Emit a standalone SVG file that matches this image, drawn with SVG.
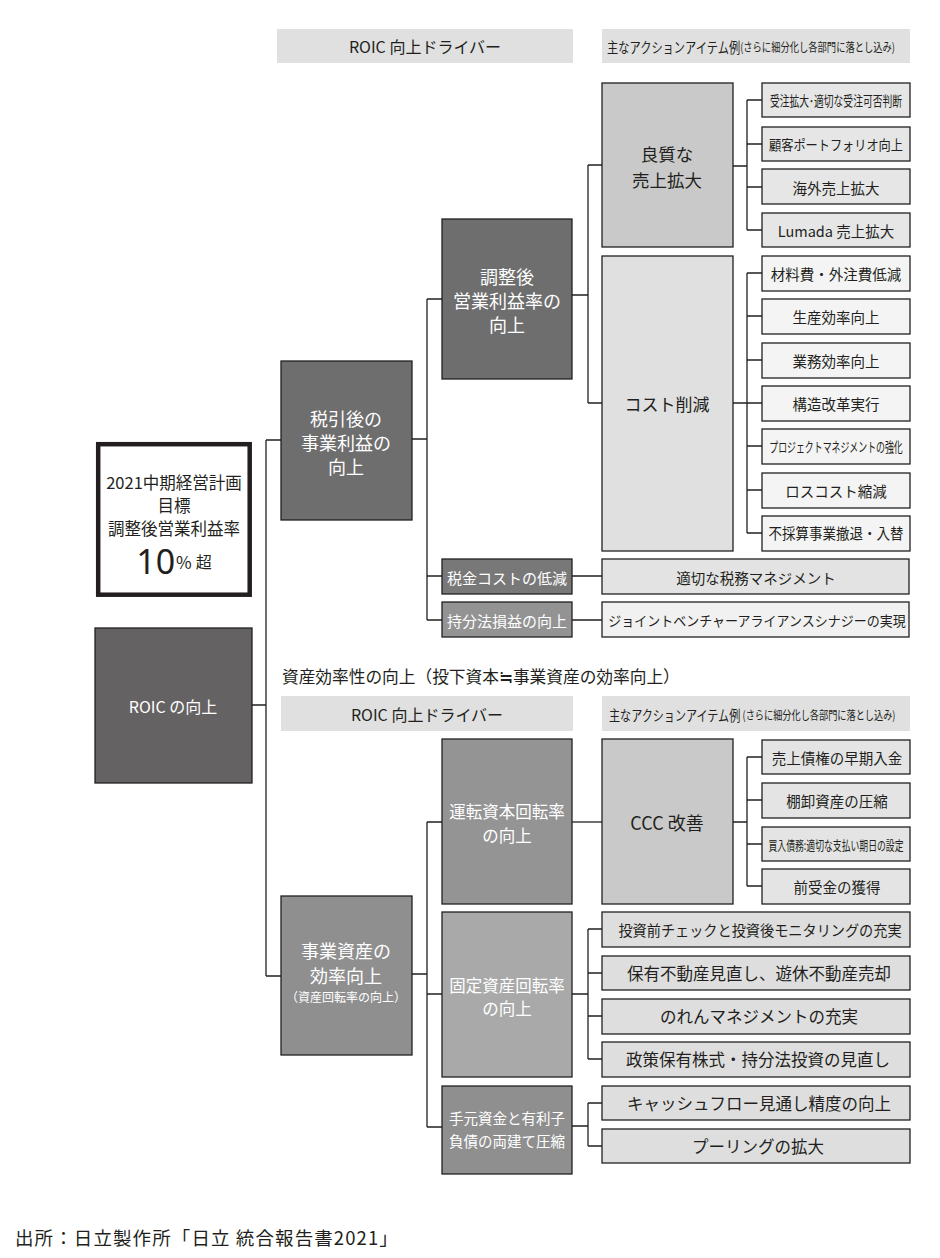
<svg xmlns="http://www.w3.org/2000/svg" width="940" height="1258" viewBox="0 0 940 1258">
<style>
text{font-family:"Noto Sans CJK JP","Noto Sans",sans-serif;fill:#231f20;dominant-baseline:central}
.w{fill:#ffffff}
.b{stroke:#231f20;stroke-width:1.3}
.c{fill:none;stroke:#231f20;stroke-width:1.3}
.m{text-anchor:middle}
</style>
<rect width="940" height="1258" fill="#ffffff"/>

<!-- headers -->
<g id="hdr1">
<rect x="277" y="29" width="296" height="34" fill="#e0e0e0"/>
<text x="425" y="46" class="m" font-size="16">ROIC 向上ドライバー</text>
<rect x="602" y="29" width="308" height="34" fill="#e0e0e0"/>
<text transform="translate(607,46) scale(0.775,1)"><tspan font-size="14.5">主なアクションアイテム例</tspan><tspan font-size="12">(さらに細分化し各部門に落とし込み)</tspan></text>
</g>
<g id="sec2label">
<text x="282" y="676" font-size="16.7">資産効率性の向上（投下資本≒事業資産の効率向上）</text>
</g>
<g id="hdr2">
<rect x="281" y="696" width="292" height="35" fill="#e0e0e0"/>
<text x="427" y="714" class="m" font-size="16">ROIC 向上ドライバー</text>
<rect x="602" y="696" width="308" height="35" fill="#e0e0e0"/>
<text transform="translate(609,714) scale(0.765,1)"><tspan font-size="14.5">主なアクションアイテム例</tspan><tspan font-size="12" dx="3">(さらに細分化し各部門に落とし込み)</tspan></text>
</g>

<!-- connectors -->
<g id="connectors" class="c">
<path d="M252 705H266M266 440V976M266 440H281M266 976H281"/>
<path d="M412 439H427M427 299V620M427 299H442M427 576H442M427 620H442"/>
<path d="M572 295H588M588 165V403M588 165H602M588 403H602"/>
<path d="M733 166H747M747 100V230M747 100H762M747 144H762M747 187H762M747 230H762"/>
<path d="M733 403H747M747 273V533M747 273H762M747 316H762M747 360H762M747 403H762M747 446H762M747 490H762M747 533H762"/>
<path d="M572 576H602M572 620H602"/>
<path d="M412 974H427M427 822V1127M427 822H442M427 994H442M427 1127H442"/>
<path d="M572 822H602"/>
<path d="M733 822H747M747 757V886M747 757H762M747 800H762M747 844H762M747 886H762"/>
<path d="M572 994H588M588 929V1059M588 929H602M588 973H602M588 1016H602M588 1059H602"/>
<path d="M572 1126H588M588 1103V1146M588 1103H602M588 1146H602"/>
</g>

<!-- left column -->
<g id="goal">
<rect x="98.2" y="444.2" width="151.5" height="150.5" fill="#ffffff" stroke="#231f20" stroke-width="4.5"/>
<text x="174" y="482" class="m" font-size="16.5">2021中期経営計画</text>
<text x="174" y="505" class="m" font-size="16.5">目標</text>
<text x="174" y="528" class="m" font-size="16.5">調整後営業利益率</text>
<text x="174" y="561" class="m"><tspan font-size="34" font-family="Noto Sans,sans-serif">10</tspan><tspan font-size="17" dx="1">%</tspan><tspan font-size="16" dx="4">超</tspan></text>
</g>
<g id="roic">
<rect x="95" y="628" width="157" height="155" fill="#656263" class="b"/>
<text x="173" y="706" class="m w" font-size="16">ROIC の向上</text>
</g>

<!-- level 2 -->
<g id="zeibiki">
<rect x="281" y="361" width="131" height="159" fill="#6e6e6e" class="b"/>
<text x="346" y="418" class="m w" font-size="18">税引後の</text>
<text x="346" y="442" class="m w" font-size="18">事業利益の</text>
<text x="346" y="466" class="m w" font-size="18">向上</text>
</g>
<g id="jigyoshisan">
<rect x="281" y="896" width="131" height="159" fill="#8f8f8f" class="b"/>
<text x="346" y="950" class="m w" font-size="18">事業資産の</text>
<text x="346" y="975" class="m w" font-size="18">効率向上</text>
<text class="m w" font-size="12.5" transform="translate(346,997) scale(0.96,1)">（資産回転率の向上）</text>
</g>

<!-- level 3 upper -->
<g id="chosei">
<rect x="442" y="219" width="130" height="160" fill="#6e6e6e" class="b"/>
<text x="507" y="276" class="m w" font-size="18">調整後</text>
<text x="507" y="300" class="m w" font-size="18">営業利益率の</text>
<text x="507" y="324" class="m w" font-size="18">向上</text>
</g>
<g id="zeikin">
<rect x="442" y="559" width="130" height="35" fill="#787878" class="b"/>
<text x="507" y="577" class="m w" font-size="15">税金コストの低減</text>
</g>
<g id="mochibun">
<rect x="442" y="602" width="130" height="35" fill="#939393" class="b"/>
<text x="507" y="620" class="m w" font-size="15">持分法損益の向上</text>
</g>

<!-- level 4 upper -->
<g id="ryoshitsu">
<rect x="602" y="83" width="131" height="164" fill="#c9c9c9" class="b"/>
<text x="667" y="153" class="m" font-size="17.5">良質な</text>
<text x="667" y="179" class="m" font-size="17.5">売上拡大</text>
</g>
<g id="cost">
<rect x="602" y="256" width="131" height="295" fill="#e0e0e0" class="b"/>
<text x="667" y="403" class="m" font-size="17">コスト削減</text>
</g>
<g id="zeimu">
<rect x="602" y="559" width="307" height="35" fill="#e3e3e3" class="b"/>
<text x="756" y="577" class="m" font-size="14.5">適切な税務マネジメント</text>
</g>
<g id="joint">
<rect x="602" y="602" width="307" height="35" fill="#f1f1f1" class="b"/>
<text class="m" font-size="14" transform="translate(757,620) scale(0.93,1)">ジョイントベンチャーアライアンスシナジーの実現</text>
</g>

<!-- action items upper -->
<g id="a1"><rect x="762" y="83" width="148" height="34" fill="#e6e6e6" class="b"/><text class="m" font-size="14" transform="translate(836,100) scale(0.7,1)">受注拡大･適切な受注可否判断</text></g>
<g id="a2"><rect x="762" y="127" width="148" height="34" fill="#e6e6e6" class="b"/><text class="m" font-size="14" transform="translate(836,144) scale(0.87,1)">顧客ポートフォリオ向上</text></g>
<g id="a3"><rect x="762" y="169" width="148" height="35" fill="#e6e6e6" class="b"/><text x="836" y="187" class="m" font-size="14.5">海外売上拡大</text></g>
<g id="a4"><rect x="762" y="213" width="148" height="34" fill="#e6e6e6" class="b"/><text x="836" y="230" class="m" font-size="14.5">Lumada 売上拡大</text></g>

<g id="b1"><rect x="762" y="256" width="148" height="35" fill="#f3f4f3" class="b"/><text x="836" y="273" class="m" font-size="14.5">材料費・外注費低減</text></g>
<g id="b2"><rect x="762" y="299" width="148" height="35" fill="#f3f4f3" class="b"/><text x="836" y="316" class="m" font-size="14.5">生産効率向上</text></g>
<g id="b3"><rect x="762" y="343" width="148" height="35" fill="#f3f4f3" class="b"/><text x="836" y="360" class="m" font-size="14.5">業務効率向上</text></g>
<g id="b4"><rect x="762" y="386" width="148" height="35" fill="#f3f4f3" class="b"/><text x="836" y="403" class="m" font-size="14.5">構造改革実行</text></g>
<g id="b5"><rect x="762" y="429" width="148" height="35" fill="#f3f4f3" class="b"/><text class="m" font-size="13.5" transform="translate(836,446) scale(0.66,1)">プロジェクトマネジメントの強化</text></g>
<g id="b6"><rect x="762" y="473" width="148" height="35" fill="#f3f4f3" class="b"/><text x="836" y="490" class="m" font-size="14.5">ロスコスト縮減</text></g>
<g id="b7"><rect x="762" y="516" width="148" height="35" fill="#f3f4f3" class="b"/><text class="m" font-size="14.5" transform="translate(836,533) scale(0.93,1)">不採算事業撤退・入替</text></g>

<!-- level 3 lower -->
<g id="unten">
<rect x="442" y="739" width="130" height="165" fill="#949494" class="b"/>
<text x="507" y="811" class="m w" font-size="16.5">運転資本回転率</text>
<text x="507" y="835" class="m w" font-size="16.5">の向上</text>
</g>
<g id="kotei">
<rect x="442" y="912" width="130" height="165" fill="#a9a9a9" class="b"/>
<text x="507" y="985" class="m w" font-size="16.5">固定資産回転率</text>
<text x="507" y="1008" class="m w" font-size="16.5">の向上</text>
</g>
<g id="temoto">
<rect x="442" y="1086" width="130" height="88" fill="#8f8f8f" class="b"/>
<text x="507" y="1117" class="m w" font-size="14.5">手元資金と有利子</text>
<text x="507" y="1140" class="m w" font-size="14.5">負債の両建て圧縮</text>
</g>

<g id="ccc">
<rect x="602" y="739" width="131" height="165" fill="#c9c9c9" class="b"/>
<text x="667" y="822" class="m" font-size="18">CCC 改善</text>
</g>
<g id="c1"><rect x="762" y="740" width="148" height="34" fill="#e4e4e4" class="b"/><text x="837" y="757" class="m" font-size="14.5">売上債権の早期入金</text></g>
<g id="c2"><rect x="762" y="783" width="148" height="35" fill="#e4e4e4" class="b"/><text x="837" y="800" class="m" font-size="14.5">棚卸資産の圧縮</text></g>
<g id="c3"><rect x="762" y="827" width="148" height="34" fill="#e4e4e4" class="b"/><text class="m" font-size="13" transform="translate(836,844) scale(0.68,1)">買入債務:適切な支払い期日の設定</text></g>
<g id="c4"><rect x="762" y="869" width="148" height="35" fill="#e4e4e4" class="b"/><text x="837" y="886" class="m" font-size="14.5">前受金の獲得</text></g>

<g id="d1"><rect x="602" y="912" width="308" height="35" fill="#dedede" class="b"/><text class="m" font-size="15" transform="translate(760,929) scale(0.945,1)">投資前チェックと投資後モニタリングの充実</text></g>
<g id="d2"><rect x="602" y="956" width="308" height="34" fill="#dedede" class="b"/><text x="759" y="973" class="m" font-size="16.5">保有不動産見直し、遊休不動産売却</text></g>
<g id="d3"><rect x="602" y="999" width="308" height="35" fill="#dedede" class="b"/><text x="759" y="1016" class="m" font-size="16.5">のれんマネジメントの充実</text></g>
<g id="d4"><rect x="602" y="1042" width="308" height="35" fill="#dedede" class="b"/><text x="758" y="1059" class="m" font-size="16.5">政策保有株式・持分法投資の見直し</text></g>
<g id="e1"><rect x="602" y="1086" width="308" height="34" fill="#dedede" class="b"/><text x="759" y="1103" class="m" font-size="16.5">キャッシュフロー見通し精度の向上</text></g>
<g id="e2"><rect x="602" y="1129" width="308" height="34" fill="#dedede" class="b"/><text x="758" y="1146" class="m" font-size="16.5">プーリングの拡大</text></g>

<g id="source">
<text x="15" y="1237" font-size="18.5" letter-spacing="1.1">出所：日立製作所「日立 統合報告書2021」</text>
</g>
</svg>
